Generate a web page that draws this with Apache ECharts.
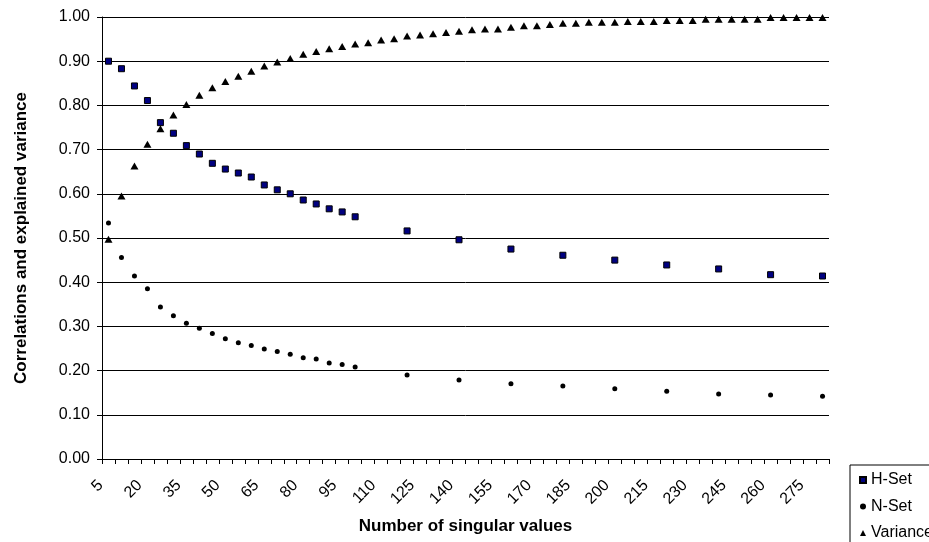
<!DOCTYPE html>
<html>
<head>
<meta charset="utf-8">
<script src="https://cdn.jsdelivr.net/npm/echarts@6/dist/echarts.min.js"></script>
<style>
html,body{margin:0;padding:0;background:#fff;}
#chart{width:929px;height:542px;}
</style>
</head>
<body>
<div id="chart"></div>
<script>
var categories = ['5','10','15','20','25','30','35','40','45','50','55','60','65','70','75','80','85','90','95','100',
  '105','110','115','120','125','130','135','140','145','150','155','160','165','170','175','180','185','190','195','200',
  '205','210','215','220','225','230','235','240','245','250','255','260','265','270','275','280'];

var setX = ['5','10','15','20','25','30','35','40','45','50','55','60','65','70','75','80','85','90','95','100',
  '120','140','160','180','200','220','240','260','280'];

var hSet = [0.900,0.883,0.844,0.811,0.761,0.737,0.709,0.690,0.669,0.656,0.647,0.638,0.620,0.609,0.600,0.586,0.577,0.566,0.559,0.548,
  0.516,0.496,0.475,0.461,0.450,0.439,0.430,0.417,0.414];

var nSet = [0.534,0.456,0.414,0.385,0.344,0.324,0.307,0.296,0.284,0.272,0.263,0.257,0.249,0.243,0.237,0.229,0.226,0.217,0.214,0.208,
  0.190,0.179,0.170,0.165,0.159,0.153,0.147,0.145,0.142];

var variance = [0.497,0.595,0.663,0.712,0.747,0.778,0.802,0.823,0.840,0.854,0.866,0.877,0.889,0.898,0.906,0.916,0.922,0.928,0.933,0.939,
  0.942,0.948,0.951,0.957,0.959,0.962,0.965,0.968,0.971,0.973,0.973,0.977,0.980,0.980,0.983,0.986,0.986,0.988,0.988,0.988,
  0.990,0.990,0.990,0.992,0.992,0.992,0.995,0.995,0.995,0.995,0.995,0.999,0.999,0.999,0.999,0.999];

var yTicks = ['0.00','0.10','0.20','0.30','0.40','0.50','0.60','0.70','0.80','0.90','1.00'];

function pairs(xs, ys) {
  return xs.map(function (x, i) { return [categories.indexOf(x), ys[i]]; });
}

var FONT = 'Liberation Sans, Arial, sans-serif';
var chart = echarts.init(document.getElementById('chart'), null, {renderer: 'canvas'});
chart.setOption({
  backgroundColor: '#fff',
  animation: false,
  textStyle: {fontFamily: FONT, color: '#000'},
  grid: {left: 102, right: 100, top: 17, bottom: 83, containLabel: false},
  legend: {
    orient: 'vertical',
    left: 850, top: 465,
    width: 120, height: 100,
    borderColor: '#000', borderWidth: 1,
    padding: [7, 8, 6, 9],
    itemWidth: 6, itemHeight: 6, itemGap: 10.5,
    textStyle: {fontFamily: FONT, fontSize: 16, color: '#000', lineHeight: 16},
    data: [
      {name: 'H-Set', icon: 'rect'},
      {name: 'N-Set', icon: 'circle'},
      {name: 'Variance', icon: 'triangle'}
    ]
  },
  xAxis: {
    type: 'category',
    data: categories,
    boundaryGap: true,
    name: 'Number of singular values',
    nameLocation: 'middle',
    nameGap: 59,
    nameTextStyle: {fontFamily: FONT, fontSize: 17, fontWeight: 'bold', color: '#000'},
    axisLine: {lineStyle: {color: '#000', width: 1}},
    axisTick: {show: true, interval: 0, length: 5, inside: false, lineStyle: {color: '#000'}},
    axisLabel: {interval: 2, rotate: 45, margin: 16, padding: [0, 11, 0, 0], fontFamily: FONT, fontSize: 16, color: '#000'},
    splitLine: {show: false}
  },
  yAxis: {
    type: 'value',
    min: 0, max: 1, interval: 0.1,
    name: 'Correlations and explained variance',
    nameLocation: 'middle',
    nameGap: 72,
    nameRotate: 90,
    nameTextStyle: {fontFamily: FONT, fontSize: 17, fontWeight: 'bold', color: '#000'},
    axisLine: {show: true, lineStyle: {color: '#000', width: 1}},
    axisTick: {show: true, length: 5, lineStyle: {color: '#000'}},
    axisLabel: {
      margin: 12, fontFamily: FONT, fontSize: 16, color: '#000',
      formatter: function (v) { return yTicks[Math.round(v * 10)]; }
    },
    splitLine: {show: true, lineStyle: {color: '#000', width: 1}}
  },
  series: [
    {
      name: 'H-Set', type: 'scatter', symbol: 'rect', symbolSize: 6,
      itemStyle: {color: '#000080', borderColor: '#000', borderWidth: 1, opacity: 1},
      data: pairs(setX, hSet)
    },
    {
      name: 'N-Set', type: 'scatter', symbol: 'circle', symbolSize: 5,
      itemStyle: {color: '#000', opacity: 1},
      data: pairs(setX, nSet)
    },
    {
      name: 'Variance', type: 'scatter', symbol: 'triangle', symbolSize: [8, 7],
      itemStyle: {color: '#000', opacity: 1},
      data: variance.map(function (v, i) { return [i, v]; })
    }
  ]
});
</script>
</body>
</html>
